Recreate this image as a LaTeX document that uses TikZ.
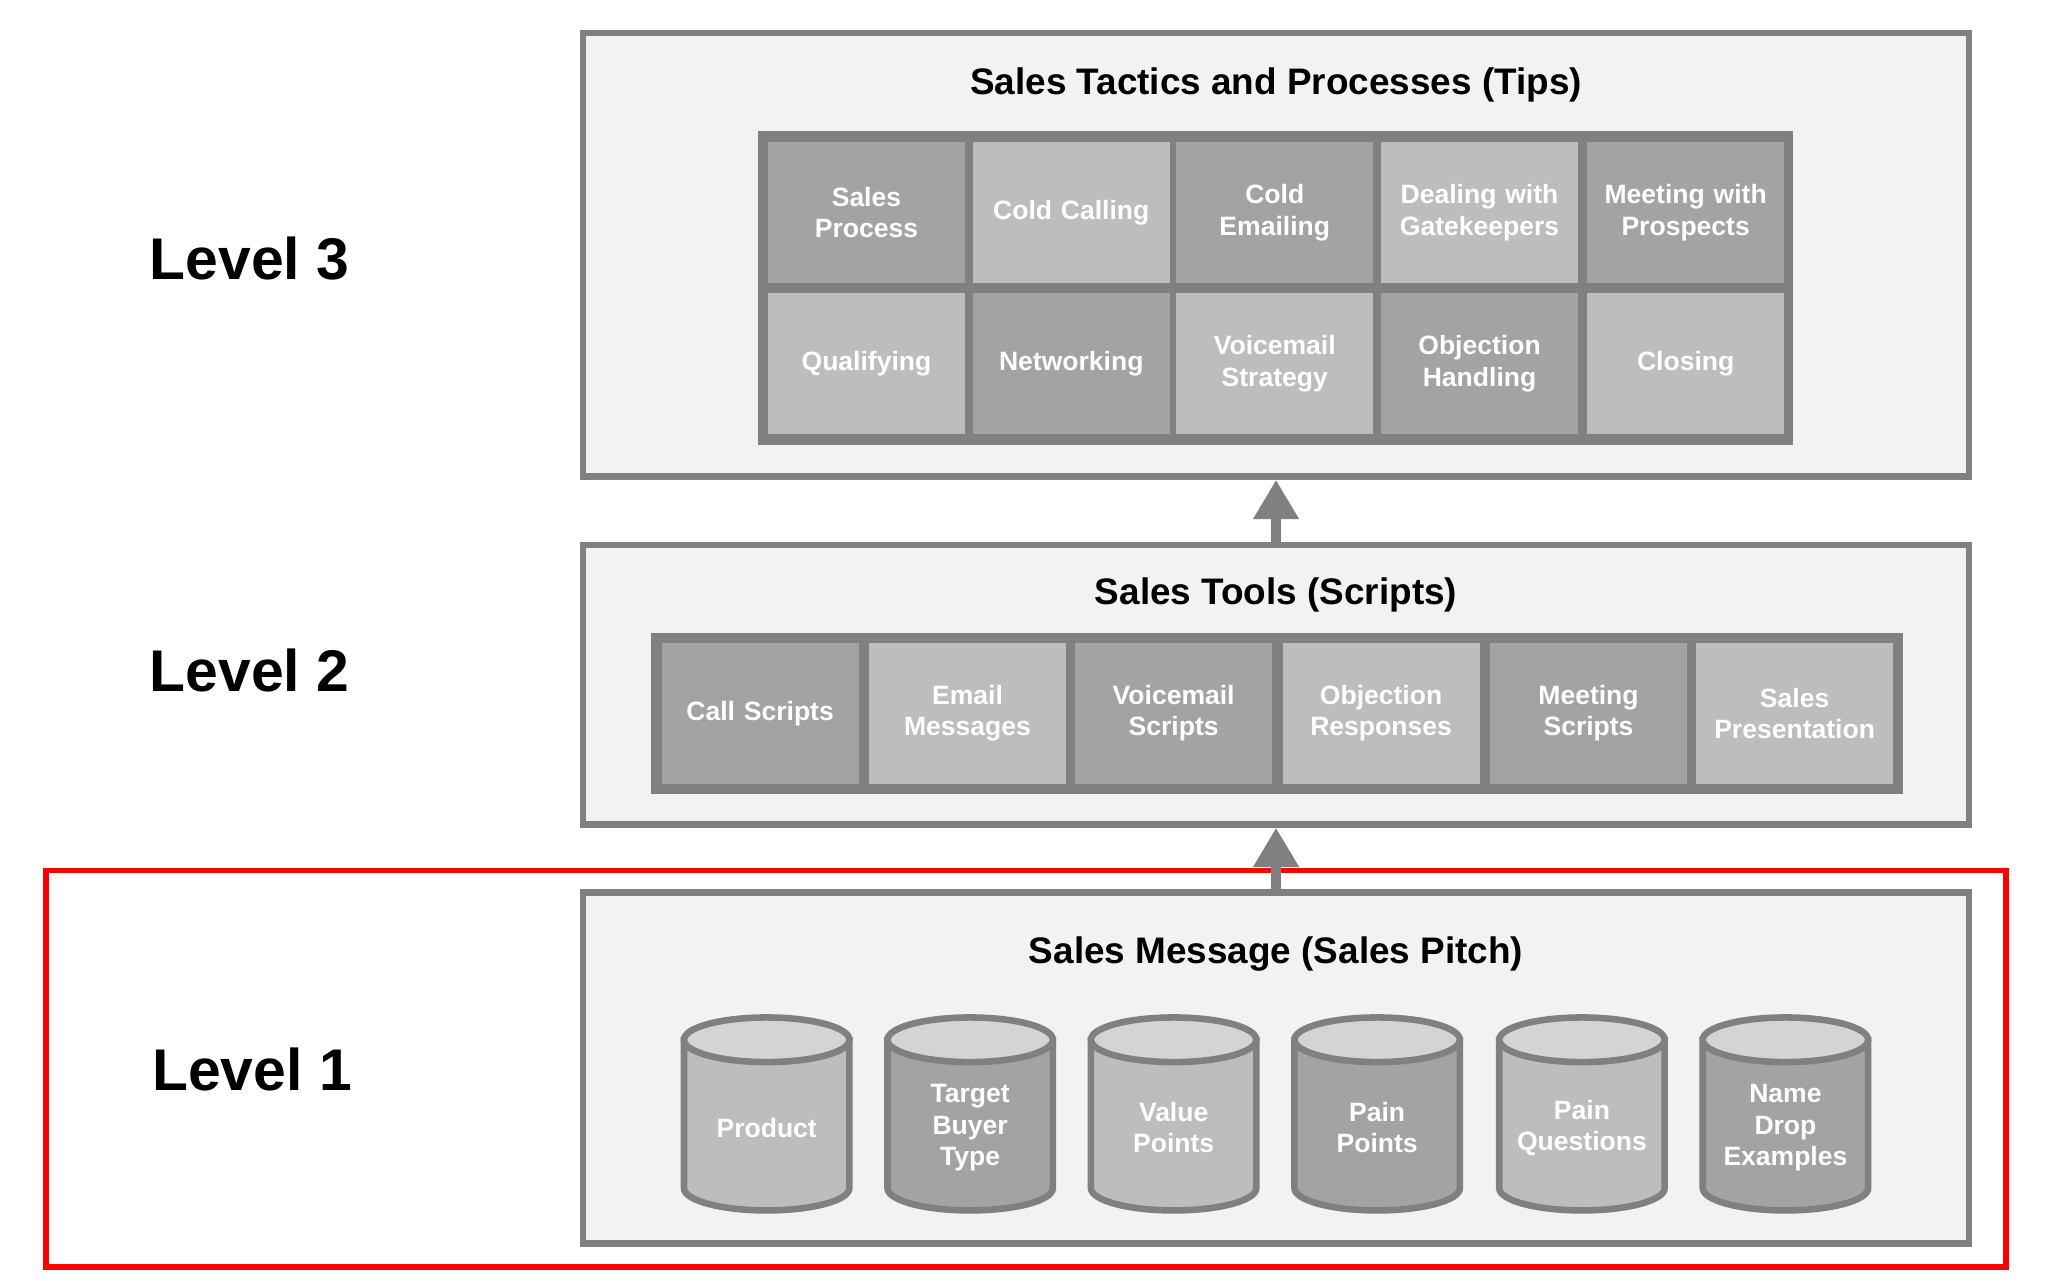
\documentclass[tikz,border=0pt]{standalone}
\usepackage{fontspec}
\setmainfont{Liberation Sans}
\usetikzlibrary{arrows.meta}
\definecolor{edge}{HTML}{808080}
\definecolor{pane}{HTML}{F2F2F2}
\definecolor{dark}{HTML}{A3A3A3}
\definecolor{light}{HTML}{BDBDBD}
\definecolor{rim}{HTML}{D4D4D4}
\tikzset{
  level/.style={font=\fontsize{25.5}{28}\selectfont\bfseries},
  box/.style={draw=edge,fill=pane,line width=0.1cm,inner sep=0pt},
  title/.style={font=\fontsize{16}{18}\selectfont\bfseries},
  frame/.style={draw=edge,fill=edge,line width=0.12cm,inner sep=0pt},
  cell/.style={text=white,inner sep=0pt,minimum width=3cm,minimum height=2.14cm,
    text width=2.9cm,align=center,font=\fontsize{11.5}{13.5}\selectfont\bfseries},
  up/.style={draw=edge,line width=0.16cm,-{Triangle[width=0.66cm,length=0.6cm]}}
}
\begin{document}
\begin{tikzpicture}[x=0.02cm,y=-0.02cm]
  \useasboundingbox[fill=white] (0,0) rectangle (1560,975);
  % rahmen um stufe 1
  \draw[red,line width=0.08cm] (35,663) rectangle (1528,965);

  % stufen
  \node[level] (lv3) at (190,197) {Level 3};
  \node[level] (lv2) at (190,511) {Level 2};
  \node[level] (lv1) at (192,815) {Level 1};

  \node[box,minimum width=21.12cm,minimum height=6.76cm] (tips) at (972,194) {};
  \node[box,minimum width=21.12cm,minimum height=4.26cm] (tools) at (972,521.5) {};
  \node[box,minimum width=21.12cm,minimum height=5.34cm] (pitch) at (972,813.5) {};

  \node[title] at (972,65) {Sales Tactics and Processes (Tips)};
  \node[title] at (972,453) {Sales Tools (Scripts)};
  \node[title] at (972,727) {Sales Message (Sales Pitch)};

  % stufe 3
  \node[frame,minimum width=15.66cm,minimum height=4.66cm] (grid3) at (971.5,219.5) {};
  \foreach \x/\y/\c/\t [count=\i] in {
    660/162/dark/{Sales\\Process}, 816/162/light/{Cold Calling},
    971/162/dark/{Cold\\Emailing}, 1127/162/light/{Dealing with\\Gatekeepers},
    1284/162/dark/{Meeting with\\Prospects},
    660/277/light/{Qualifying}, 816/277/dark/{Networking},
    971/277/light/{Voicemail\\Strategy}, 1127/277/dark/{Objection\\Handling},
    1284/277/light/{Closing}}
    \node[cell,fill=\c] (tip\i) at (\x,\y) {\t};

  % stufe 2
  \node[frame,minimum width=18.96cm,minimum height=2.34cm] (grid2) at (973,543.5) {};
  \foreach \x/\c/\t [count=\i] in {
    579/dark/{Call Scripts}, 737/light/{Email\\Messages},
    894/dark/{Voicemail\\Scripts}, 1052/light/{Objection\\Responses},
    1210/dark/{Meeting\\Scripts}, 1367/light/{Sales\\Presentation}}
    \node[cell,fill=\c] (tool\i) at (\x,543.5) {\t};

  % stufe 1
  \foreach \x/\c/\t [count=\i] in {
    584/light/{Product}, 739/dark/{Target\\Buyer\\Type}, 894/light/{Value\\Points},
    1049/dark/{Pain\\Points}, 1205/light/{Pain\\Questions}, 1360/dark/{Name\\Drop\\Examples}}
  {
    \filldraw[draw=edge,fill=\c,line width=0.1cm]
      (\x-63,790) -- (\x-63,905) arc[start angle=180,end angle=360,x radius=1.26cm,y radius=0.34cm]
      -- (\x+63,790);
    \filldraw[draw=edge,fill=rim,line width=0.1cm] (\x,792) ellipse[x radius=1.26cm,y radius=0.34cm];
    \node[cell,minimum width=2.4cm,minimum height=1.8cm,text width=2.4cm] (msg\i) at (\x,859) {\t};
  }

  % pfeile
  \draw[up] (pitch.north) -- (tools.south);
  \draw[up] (tools.north) -- (tips.south);
\end{tikzpicture}
\end{document}
